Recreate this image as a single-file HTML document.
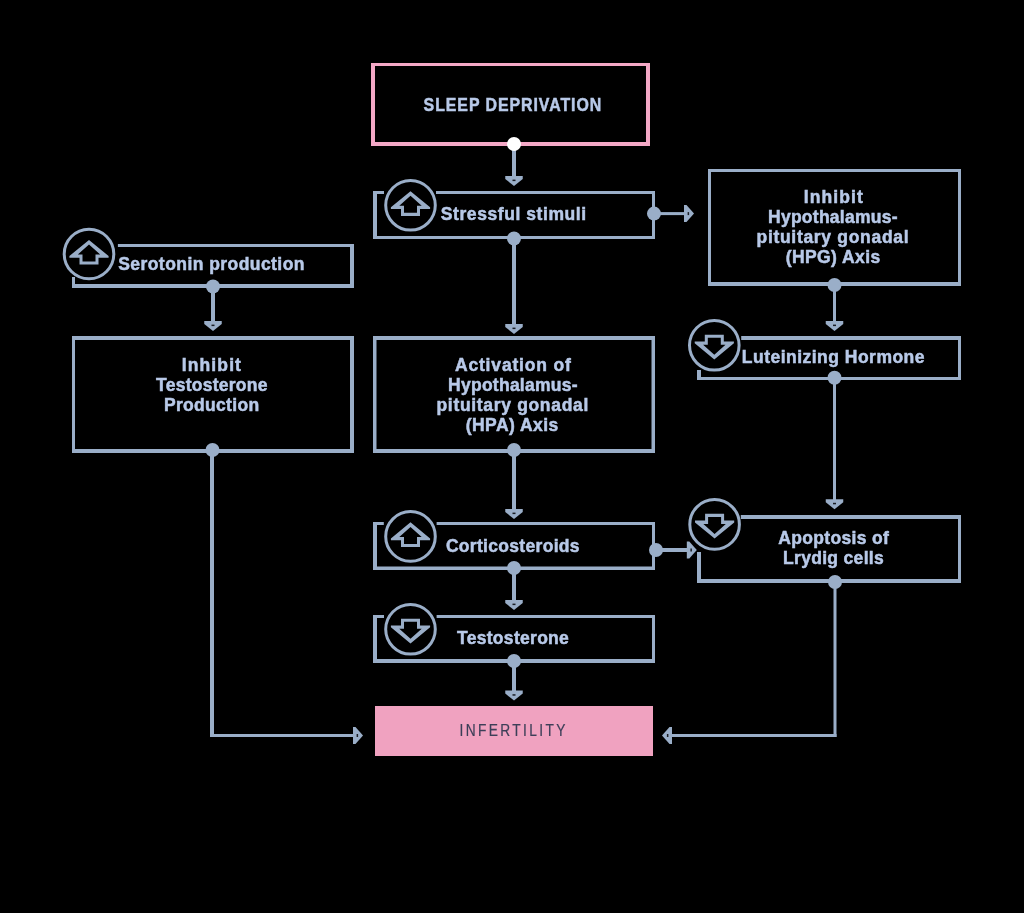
<!DOCTYPE html>
<html><head><meta charset="utf-8"><style>
html,body{margin:0;padding:0;background:#000;width:1024px;height:913px;overflow:hidden}
svg{display:block;will-change:transform}
</style></head><body>
<svg width="1024" height="913" viewBox="0 0 1024 913">
<rect width="1024" height="913" fill="#000"/>
<rect x="371.00" y="63.00" width="279.00" height="3.00" fill="#f4a8c6"/>
<rect x="371.00" y="142.00" width="279.00" height="4.00" fill="#f4a8c6"/>
<rect x="646.00" y="63.00" width="4.00" height="83.00" fill="#f4a8c6"/>
<rect x="371.00" y="63.00" width="4.00" height="83.00" fill="#f4a8c6"/>
<text transform="translate(423.60,111.3) scale(0.86,1)" font-family="&quot;Liberation Sans&quot;, sans-serif" font-weight="bold" font-size="18.5" letter-spacing="1.094" fill="#b8c9e8" stroke="#b8c9e8" stroke-width="0.5">SLEEP DEPRIVATION</text>
<rect x="512.0" y="146" width="4" height="31" fill="#9aaec8"/>
<path d="M505.25,176 L522.75,176 L522.75,179 L514,186 L505.25,179 Z" fill="#9aaec8"/>
<rect x="512.5" y="179.6" width="3" height="1.5" fill="#1a1d24"/>
<circle cx="514" cy="144" r="7" fill="#ffffff"/>
<rect x="373.00" y="191.00" width="11.00" height="3.00" fill="#9aaec8"/>
<rect x="436.00" y="191.00" width="219.00" height="3.00" fill="#9aaec8"/>
<rect x="373.00" y="236.00" width="282.00" height="3.00" fill="#9aaec8"/>
<rect x="652.00" y="191.00" width="3.00" height="48.00" fill="#9aaec8"/>
<rect x="373.00" y="191.00" width="4.00" height="48.00" fill="#9aaec8"/>
<circle cx="410.5" cy="205.3" r="24.8" fill="none" stroke="#9aaec8" stroke-width="3"/>
<path d="M410.50,191.20 L430.10,207.30 L430.10,209.10 L420.00,209.10 L420.00,215.90 L401.00,215.90 L401.00,209.10 L390.90,209.10 L390.90,207.30 Z M410.50,195.80 L421.70,205.80 L417.00,205.80 L417.00,212.80 L404.00,212.80 L404.00,205.80 L399.30,205.80 Z" fill="#9aaec8" fill-rule="evenodd"/>
<text transform="translate(440.80,220) scale(1.0,1)" font-family="&quot;Liberation Sans&quot;, sans-serif" font-weight="bold" font-size="17.5" letter-spacing="0.576" fill="#b8c9e8" stroke="#b8c9e8" stroke-width="0.5">Stressful stimuli</text>
<rect x="654" y="212.1" width="32" height="3" fill="#9aaec8"/>
<path d="M684,205.1 L686.5,205.1 L694,213.6 L686.5,222.1 L684,222.1 Z" fill="#9aaec8"/>
<rect x="687.6" y="212.1" width="1.5" height="3" fill="#1a1d24"/>
<circle cx="654" cy="213.6" r="7" fill="#9aaec8"/>
<rect x="512.0" y="238" width="4" height="87" fill="#9aaec8"/>
<path d="M505.25,324 L522.75,324 L522.75,327 L514,334 L505.25,327 Z" fill="#9aaec8"/>
<rect x="512.5" y="327.6" width="3" height="1.5" fill="#1a1d24"/>
<circle cx="514" cy="238.5" r="7" fill="#9aaec8"/>
<rect x="708.00" y="169.00" width="253.00" height="3.00" fill="#9aaec8"/>
<rect x="708.00" y="282.00" width="253.00" height="4.00" fill="#9aaec8"/>
<rect x="958.00" y="169.00" width="3.00" height="117.00" fill="#9aaec8"/>
<rect x="708.00" y="169.00" width="3.00" height="117.00" fill="#9aaec8"/>
<text transform="translate(803.80,203) scale(1.0,1)" font-family="&quot;Liberation Sans&quot;, sans-serif" font-weight="bold" font-size="17.5" letter-spacing="1.074" fill="#b8c9e8" stroke="#b8c9e8" stroke-width="0.5">Inhibit</text>
<text transform="translate(768.00,223) scale(1.0,1)" font-family="&quot;Liberation Sans&quot;, sans-serif" font-weight="bold" font-size="17.5" letter-spacing="0.260" fill="#b8c9e8" stroke="#b8c9e8" stroke-width="0.5">Hypothalamus-</text>
<text transform="translate(756.50,243) scale(1.0,1)" font-family="&quot;Liberation Sans&quot;, sans-serif" font-weight="bold" font-size="17.5" letter-spacing="0.692" fill="#b8c9e8" stroke="#b8c9e8" stroke-width="0.5">pituitary gonadal</text>
<text transform="translate(785.70,263) scale(1.0,1)" font-family="&quot;Liberation Sans&quot;, sans-serif" font-weight="bold" font-size="17.5" letter-spacing="0.414" fill="#b8c9e8" stroke="#b8c9e8" stroke-width="0.5">(HPG) Axis</text>
<rect x="833.0" y="285" width="3" height="37" fill="#9aaec8"/>
<path d="M825.75,321 L843.25,321 L843.25,324 L834.5,331 L825.75,324 Z" fill="#9aaec8"/>
<rect x="833.0" y="324.6" width="3" height="1.5" fill="#1a1d24"/>
<circle cx="834.5" cy="285" r="7" fill="#9aaec8"/>
<rect x="117.90" y="244.00" width="236.10" height="3.00" fill="#9aaec8"/>
<rect x="72.00" y="284.00" width="282.00" height="4.00" fill="#9aaec8"/>
<rect x="350.00" y="244.00" width="4.00" height="44.00" fill="#9aaec8"/>
<rect x="72.00" y="277.00" width="3.00" height="11.00" fill="#9aaec8"/>
<circle cx="89" cy="254" r="24.8" fill="none" stroke="#9aaec8" stroke-width="3"/>
<path d="M89.00,239.90 L108.60,256.00 L108.60,257.80 L98.50,257.80 L98.50,264.60 L79.50,264.60 L79.50,257.80 L69.40,257.80 L69.40,256.00 Z M89.00,244.50 L100.20,254.50 L95.50,254.50 L95.50,261.50 L82.50,261.50 L82.50,254.50 L77.80,254.50 Z" fill="#9aaec8" fill-rule="evenodd"/>
<text transform="translate(118.20,270) scale(1.0,1)" font-family="&quot;Liberation Sans&quot;, sans-serif" font-weight="bold" font-size="17.5" letter-spacing="0.442" fill="#b8c9e8" stroke="#b8c9e8" stroke-width="0.5">Serotonin production</text>
<rect x="211.0" y="287" width="4" height="35" fill="#9aaec8"/>
<path d="M204.25,321 L221.75,321 L221.75,324 L213,331 L204.25,324 Z" fill="#9aaec8"/>
<rect x="211.5" y="324.6" width="3" height="1.5" fill="#1a1d24"/>
<circle cx="213" cy="286.5" r="7" fill="#9aaec8"/>
<rect x="72.00" y="336.00" width="282.00" height="4.00" fill="#9aaec8"/>
<rect x="72.00" y="449.00" width="282.00" height="4.00" fill="#9aaec8"/>
<rect x="350.00" y="336.00" width="4.00" height="117.00" fill="#9aaec8"/>
<rect x="72.00" y="336.00" width="3.00" height="117.00" fill="#9aaec8"/>
<text transform="translate(181.80,370.5) scale(1.0,1)" font-family="&quot;Liberation Sans&quot;, sans-serif" font-weight="bold" font-size="17.5" letter-spacing="1.107" fill="#b8c9e8" stroke="#b8c9e8" stroke-width="0.5">Inhibit</text>
<text transform="translate(156.10,390.5) scale(1.0,1)" font-family="&quot;Liberation Sans&quot;, sans-serif" font-weight="bold" font-size="17.5" letter-spacing="0.249" fill="#b8c9e8" stroke="#b8c9e8" stroke-width="0.5">Testosterone</text>
<text transform="translate(163.90,410.5) scale(1.0,1)" font-family="&quot;Liberation Sans&quot;, sans-serif" font-weight="bold" font-size="17.5" letter-spacing="0.315" fill="#b8c9e8" stroke="#b8c9e8" stroke-width="0.5">Production</text>
<rect x="210.0" y="450" width="4" height="287" fill="#9aaec8"/>
<rect x="210" y="734.0" width="146" height="3" fill="#9aaec8"/>
<path d="M353,727.0 L355.5,727.0 L363,735.5 L355.5,744.0 L353,744.0 Z" fill="#9aaec8"/>
<rect x="356.6" y="734.0" width="1.5" height="3" fill="#1a1d24"/>
<circle cx="212.5" cy="450" r="7" fill="#9aaec8"/>
<rect x="373.00" y="336.00" width="282.00" height="4.00" fill="#9aaec8"/>
<rect x="373.00" y="449.00" width="282.00" height="4.00" fill="#9aaec8"/>
<rect x="651.50" y="336.00" width="3.50" height="117.00" fill="#9aaec8"/>
<rect x="373.00" y="336.00" width="3.50" height="117.00" fill="#9aaec8"/>
<text transform="translate(454.90,370.7) scale(1.0,1)" font-family="&quot;Liberation Sans&quot;, sans-serif" font-weight="bold" font-size="17.5" letter-spacing="0.838" fill="#b8c9e8" stroke="#b8c9e8" stroke-width="0.5">Activation of</text>
<text transform="translate(448.10,390.7) scale(1.0,1)" font-family="&quot;Liberation Sans&quot;, sans-serif" font-weight="bold" font-size="17.5" letter-spacing="0.252" fill="#b8c9e8" stroke="#b8c9e8" stroke-width="0.5">Hypothalamus-</text>
<text transform="translate(436.50,410.6) scale(1.0,1)" font-family="&quot;Liberation Sans&quot;, sans-serif" font-weight="bold" font-size="17.5" letter-spacing="0.674" fill="#b8c9e8" stroke="#b8c9e8" stroke-width="0.5">pituitary gonadal</text>
<text transform="translate(465.70,430.6) scale(1.0,1)" font-family="&quot;Liberation Sans&quot;, sans-serif" font-weight="bold" font-size="17.5" letter-spacing="0.456" fill="#b8c9e8" stroke="#b8c9e8" stroke-width="0.5">(HPA) Axis</text>
<rect x="512.0" y="450" width="4" height="60" fill="#9aaec8"/>
<path d="M505.25,509 L522.75,509 L522.75,512 L514,519 L505.25,512 Z" fill="#9aaec8"/>
<rect x="512.5" y="512.6" width="3" height="1.5" fill="#1a1d24"/>
<circle cx="514" cy="450" r="7" fill="#9aaec8"/>
<rect x="741.20" y="336.00" width="219.80" height="4.00" fill="#9aaec8"/>
<rect x="697.00" y="377.00" width="264.00" height="3.00" fill="#9aaec8"/>
<rect x="958.00" y="336.00" width="3.00" height="44.00" fill="#9aaec8"/>
<rect x="697.00" y="370.00" width="4.00" height="10.00" fill="#9aaec8"/>
<circle cx="714.3" cy="345.3" r="24.8" fill="none" stroke="#9aaec8" stroke-width="3"/>
<path d="M714.30,359.40 L733.90,343.30 L733.90,341.50 L723.80,341.50 L723.80,334.70 L704.80,334.70 L704.80,341.50 L694.70,341.50 L694.70,343.30 Z M714.30,354.80 L725.50,344.80 L720.80,344.80 L720.80,337.80 L707.80,337.80 L707.80,344.80 L703.10,344.80 Z" fill="#9aaec8" fill-rule="evenodd"/>
<text transform="translate(741.80,362.5) scale(1.0,1)" font-family="&quot;Liberation Sans&quot;, sans-serif" font-weight="bold" font-size="17.5" letter-spacing="0.484" fill="#b8c9e8" stroke="#b8c9e8" stroke-width="0.5">Luteinizing Hormone</text>
<rect x="833.0" y="378" width="3" height="122" fill="#9aaec8"/>
<path d="M825.75,499.2 L843.25,499.2 L843.25,502.2 L834.5,509.2 L825.75,502.2 Z" fill="#9aaec8"/>
<rect x="833.0" y="502.8" width="3" height="1.5" fill="#1a1d24"/>
<circle cx="834.5" cy="377.8" r="7" fill="#9aaec8"/>
<rect x="373.00" y="522.00" width="10.80" height="3.00" fill="#9aaec8"/>
<rect x="436.60" y="522.00" width="218.40" height="3.00" fill="#9aaec8"/>
<rect x="373.00" y="566.50" width="282.00" height="3.50" fill="#9aaec8"/>
<rect x="652.00" y="522.00" width="3.00" height="48.00" fill="#9aaec8"/>
<rect x="373.00" y="522.00" width="4.00" height="48.00" fill="#9aaec8"/>
<circle cx="410.5" cy="536.4" r="24.8" fill="none" stroke="#9aaec8" stroke-width="3"/>
<path d="M410.50,522.30 L430.10,538.40 L430.10,540.20 L420.00,540.20 L420.00,547.00 L401.00,547.00 L401.00,540.20 L390.90,540.20 L390.90,538.40 Z M410.50,526.90 L421.70,536.90 L417.00,536.90 L417.00,543.90 L404.00,543.90 L404.00,536.90 L399.30,536.90 Z" fill="#9aaec8" fill-rule="evenodd"/>
<text transform="translate(445.90,551.6) scale(1.0,1)" font-family="&quot;Liberation Sans&quot;, sans-serif" font-weight="bold" font-size="17.5" letter-spacing="0.308" fill="#b8c9e8" stroke="#b8c9e8" stroke-width="0.5">Corticosteroids</text>
<rect x="656" y="548.0" width="32" height="4" fill="#9aaec8"/>
<path d="M686.8,541.5 L689.3,541.5 L696.8,550 L689.3,558.5 L686.8,558.5 Z" fill="#9aaec8"/>
<rect x="690.4" y="548.5" width="1.5" height="3" fill="#1a1d24"/>
<circle cx="656" cy="550" r="7" fill="#9aaec8"/>
<rect x="512.0" y="568" width="4" height="33" fill="#9aaec8"/>
<path d="M505.25,600 L522.75,600 L522.75,603 L514,610 L505.25,603 Z" fill="#9aaec8"/>
<rect x="512.5" y="603.6" width="3" height="1.5" fill="#1a1d24"/>
<circle cx="514" cy="568" r="7" fill="#9aaec8"/>
<rect x="740.80" y="515.00" width="220.20" height="4.00" fill="#9aaec8"/>
<rect x="697.00" y="579.00" width="264.00" height="4.00" fill="#9aaec8"/>
<rect x="958.00" y="515.00" width="3.00" height="68.00" fill="#9aaec8"/>
<rect x="697.00" y="552.00" width="4.00" height="31.00" fill="#9aaec8"/>
<circle cx="714.6" cy="524.4" r="24.8" fill="none" stroke="#9aaec8" stroke-width="3"/>
<path d="M714.60,538.50 L734.20,522.40 L734.20,520.60 L724.10,520.60 L724.10,513.80 L705.10,513.80 L705.10,520.60 L695.00,520.60 L695.00,522.40 Z M714.60,533.90 L725.80,523.90 L721.10,523.90 L721.10,516.90 L708.10,516.90 L708.10,523.90 L703.40,523.90 Z" fill="#9aaec8" fill-rule="evenodd"/>
<text transform="translate(778.30,543.8) scale(1.0,1)" font-family="&quot;Liberation Sans&quot;, sans-serif" font-weight="bold" font-size="17.5" letter-spacing="0.336" fill="#b8c9e8" stroke="#b8c9e8" stroke-width="0.5">Apoptosis of</text>
<text transform="translate(783.00,563.5) scale(1.0,1)" font-family="&quot;Liberation Sans&quot;, sans-serif" font-weight="bold" font-size="17.5" letter-spacing="0.316" fill="#b8c9e8" stroke="#b8c9e8" stroke-width="0.5">Lrydig cells</text>
<rect x="833.5" y="582" width="3" height="155" fill="#9aaec8"/>
<rect x="670" y="734.0" width="166.5" height="3" fill="#9aaec8"/>
<path d="M672,727.0 L669.5,727.0 L662,735.5 L669.5,744.0 L672,744.0 Z" fill="#9aaec8"/>
<rect x="666.9" y="734.0" width="1.5" height="3" fill="#1a1d24"/>
<circle cx="835" cy="582" r="7" fill="#9aaec8"/>
<rect x="373.00" y="615.00" width="11.00" height="3.00" fill="#9aaec8"/>
<rect x="436.60" y="615.00" width="218.40" height="3.00" fill="#9aaec8"/>
<rect x="373.00" y="659.00" width="282.00" height="4.00" fill="#9aaec8"/>
<rect x="652.00" y="615.00" width="3.00" height="48.00" fill="#9aaec8"/>
<rect x="373.00" y="615.00" width="4.00" height="48.00" fill="#9aaec8"/>
<circle cx="410.5" cy="629.3" r="24.8" fill="none" stroke="#9aaec8" stroke-width="3"/>
<path d="M410.50,643.40 L430.10,627.30 L430.10,625.50 L420.00,625.50 L420.00,618.70 L401.00,618.70 L401.00,625.50 L390.90,625.50 L390.90,627.30 Z M410.50,638.80 L421.70,628.80 L417.00,628.80 L417.00,621.80 L404.00,621.80 L404.00,628.80 L399.30,628.80 Z" fill="#9aaec8" fill-rule="evenodd"/>
<text transform="translate(457.00,644) scale(1.0,1)" font-family="&quot;Liberation Sans&quot;, sans-serif" font-weight="bold" font-size="17.5" letter-spacing="0.295" fill="#b8c9e8" stroke="#b8c9e8" stroke-width="0.5">Testosterone</text>
<rect x="512.0" y="661" width="4" height="31" fill="#9aaec8"/>
<path d="M505.25,690.6 L522.75,690.6 L522.75,693.6 L514,700.6 L505.25,693.6 Z" fill="#9aaec8"/>
<rect x="512.5" y="694.2" width="3" height="1.5" fill="#1a1d24"/>
<circle cx="514" cy="661" r="7" fill="#9aaec8"/>
<rect x="375" y="706" width="278" height="50" fill="#f0a2c0"/>
<text transform="translate(459.54,735.6) scale(0.86,1)" font-family="&quot;Liberation Sans&quot;, sans-serif" font-weight="normal" font-size="16" letter-spacing="2.751" fill="#3d3f58" stroke="#3d3f58" stroke-width="0.2">INFERTILITY</text>
</svg></body></html>
